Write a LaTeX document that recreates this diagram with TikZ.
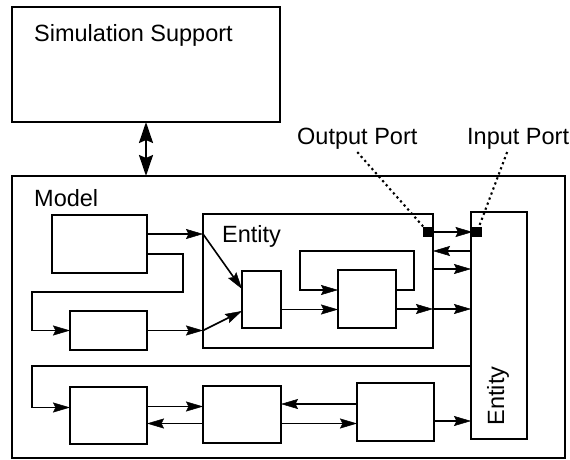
\documentclass[tikz,border=0pt]{standalone}
\usepackage{fontspec}
\setmainfont{Liberation Sans}
\usetikzlibrary{arrows.meta,calc}
\begin{document}
\begin{tikzpicture}[x=1pt,y=-1pt,
  blk/.style={draw, line width=1.7pt, inner sep=0pt, outer sep=0pt, anchor=north west},
  frame/.style={blk, line width=2.2pt},
  lbl/.style={inner sep=0pt, anchor=base west, font=\fontsize{23.5}{28}\selectfont},
  wire/.style={line width=1.6pt},
  tip/.tip={Stealth[length=17pt,width=10pt,inset=2.5pt,line width=0.5pt]},
  bigtipshape/.tip={Stealth[length=21pt,width=14pt,inset=3pt]},
  arr/.style={wire, -tip},
  bigtip/.style={line width=2.2pt, bigtipshape-bigtipshape},
  port/.style={fill=black, draw=black, minimum size=9pt, inner sep=0pt, outer sep=0pt},
  leader/.style={line width=2.1pt, dash pattern=on 2.2pt off 3.2pt}]
\useasboundingbox (0,0) rectangle (570,460);

% outer frames
\node[frame, minimum width=268pt, minimum height=115pt] (sim) at (12,7) {};
\node[frame, minimum width=553pt, minimum height=282pt] (model) at (12,176) {};

% blocks of the model
\node[blk, minimum width=95pt, minimum height=58pt] (A) at (52,215) {};
\node[blk, minimum width=77pt, minimum height=39pt] (B) at (70,311) {};
\node[blk, minimum width=230pt, minimum height=134pt] (ent) at (203,214) {};
\node[blk, minimum width=39pt, minimum height=57pt] (C) at (242,271) {};
\node[blk, minimum width=58pt, minimum height=58pt] (D) at (338,270) {};
\node[blk, minimum width=56pt, minimum height=227pt] (R) at (471,212) {};
\node[blk, minimum width=77pt, minimum height=57pt] (E) at (70,387) {};
\node[blk, minimum width=78pt, minimum height=57pt] (F) at (203,386) {};
\node[blk, minimum width=77pt, minimum height=58pt] (G) at (357,383) {};

% labels
\node[lbl] (tsim) at (34,42) {Simulation Support};
\node[lbl] (tmodel) at (34,206) {Model};
\node[lbl] (tent) at (222,242) {Entity};
\node[lbl] (lo) at (297,144) {Output Port};
\node[lbl] (li) at (467,144) {Input Port};
\node[lbl, anchor=center, rotate=90] (tR) at (498,396) {Entity};

% link between support and model
\draw[bigtip] (sim.south) -- (sim.south |- model.north);

% leaders to the ports
\draw[leader] ([yshift=-3pt]lo.south) -- (428,232) coordinate (opc);
\draw[leader] ([xshift=-11pt,yshift=-3pt]li.south) -- (477,232) coordinate (ipc);
\node[port] (op) at (opc) {};
\node[port] (ip) at (ipc) {};
\draw[arr] (op.east) -- (ip.west);

% upper part
\draw[arr] ([yshift=-19pt]A.north east) coordinate (a1) -- (a1 -| ent.west) coordinate (a2);
\draw[arr] (a2) -- ([yshift=-18pt]C.north west);
\draw[arr] ([yshift=-39pt]A.north east) -- ++(36,0) -- ++(0,38)
  -| ([xshift=-38pt]B.west) -- (B.west);
\draw[arr] (B.east) -- (B.east -| ent.west) coordinate (b2);
\draw[arr] (b2) -- ([yshift=-40pt]C.north west);
\draw[arr] ([yshift=-10pt]C.east) -- ([yshift=-10pt]C.east -| D.west);
\draw[arr] ([yshift=9pt]D.east) -- ++(18,0) -- ++(0,-39) -- ++(-114,0) -- ++(0,39)
  -- ([yshift=9pt]D.west);
\draw[arr] ([yshift=-10pt]D.east) coordinate (d1) -- (d1 -| ent.east) coordinate (d2);
\draw[arr] (d2) -- (d2 -| R.west);
\draw[arr] ([yshift=-39pt]R.north west) coordinate (r1) -- (r1 -| ent.east);
\draw[arr] ([yshift=-55pt]ent.north east) coordinate (e1) -- (e1 -| R.west);

% lower part
\draw[arr] ([yshift=-154pt]R.north west) -| ([xshift=-38pt,yshift=8pt]E.west) -- ([yshift=8pt]E.west);
\draw[arr] ([yshift=9pt]E.east) coordinate (x1) -- (x1 -| F.west);
\draw[arr] ([yshift=-9pt]F.west) coordinate (x2) -- (x2 -| E.east);
\draw[arr] ([yshift=8pt]G.west) coordinate (x3) -- (x3 -| F.east);
\draw[arr] ([yshift=-9pt]F.east) coordinate (x4) -- (x4 -| G.west);
\draw[arr] ([yshift=-9pt]G.east) coordinate (x5) -- (x5 -| R.west);
\end{tikzpicture}
\end{document}
